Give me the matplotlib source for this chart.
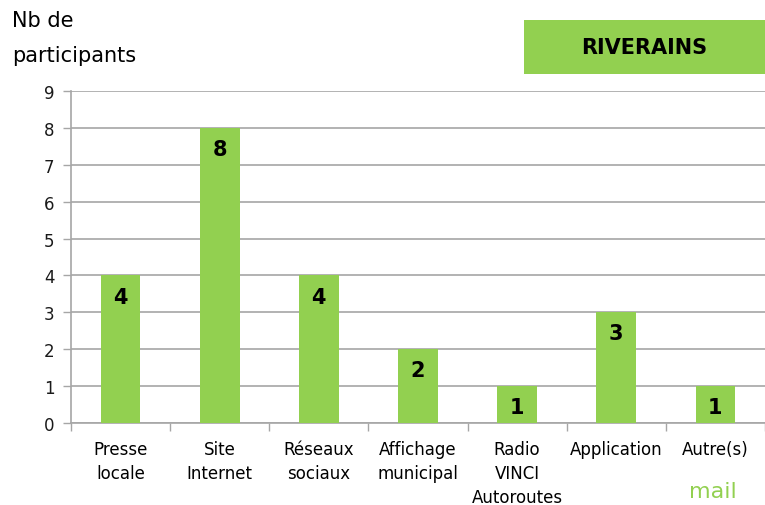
import matplotlib
matplotlib.use("Agg")
import matplotlib.pyplot as plt
from matplotlib.patches import Rectangle

categories = ["Presse\nlocale", "Site\nInternet", "Réseaux\nsociaux", "Affichage\nmunicipal",
              "Radio\nVINCI\nAutoroutes", "Application", "Autre(s)"]
values = [4, 8, 4, 2, 1, 3, 1]
yticks = list(range(0, 10))

green = "#92D050"
plt.rcParams['font.family'] = ['Liberation Sans Narrow', 'DejaVu Sans']

fig = plt.figure(figsize=(7.65, 5.06), dpi=100)
ax = fig.add_axes([71/765, 1-424/506, 694/765, (424-92)/506])

x = list(range(len(categories)))
bars = ax.bar(x, values, width=0.4, color=green, zorder=3)
for xi, v in zip(x, values):
    ax.text(xi, v - 0.3, str(v), ha='center', va='top', fontsize=15, fontweight='bold',
            family=['DejaVu Sans'], color='black', zorder=4)

ax.set_xlim(-0.5, len(categories) - 0.5)
ax.set_ylim(0, 9)
ax.set_yticks(yticks)
ax.set_yticklabels([str(t) for t in yticks], fontsize=12, color='#1a1a1a')
ax.yaxis.grid(True, color='#A6A6A6', linewidth=1.2, zorder=0)
ax.set_axisbelow(True)

ax.set_xticks([i + 0.5 for i in range(-1, len(categories))], minor=False)
ax.set_xticklabels([])
ax.tick_params(axis='x', length=6, color='#A6A6A6', width=1)
ax.tick_params(axis='y', length=6, color='#A6A6A6', width=1, pad=6)
ax.set_xticks(x, minor=True)
ax.set_xticklabels(categories, minor=True, fontsize=12, linespacing=1.45, va='top')
ax.tick_params(axis='x', which='minor', length=0, pad=12)

for s in ['top', 'right']:
    ax.spines[s].set_visible(False)
for s in ['left', 'bottom']:
    ax.spines[s].set_color('#A6A6A6')
    ax.spines[s].set_linewidth(1.2)

fig.text(12/765, 1-11/506, "Nb de\nparticipants", fontsize=15, ha='left', va='top',
         linespacing=1.95, family=['DejaVu Sans'])
fig.patches.append(Rectangle((524/765, 1-75/506), 241/765, 54/506, transform=fig.transFigure,
                             facecolor=green, edgecolor='none'))
fig.text(644/765, 1-48/506, "RIVERAINS", fontsize=15, fontweight='bold', ha='center', va='center',
         family=['DejaVu Sans'])
fig.text(713/765, 1-492/506, "mail", fontsize=16, color=green, ha='center', va='center')

fig.savefig("out.png", dpi=100)
